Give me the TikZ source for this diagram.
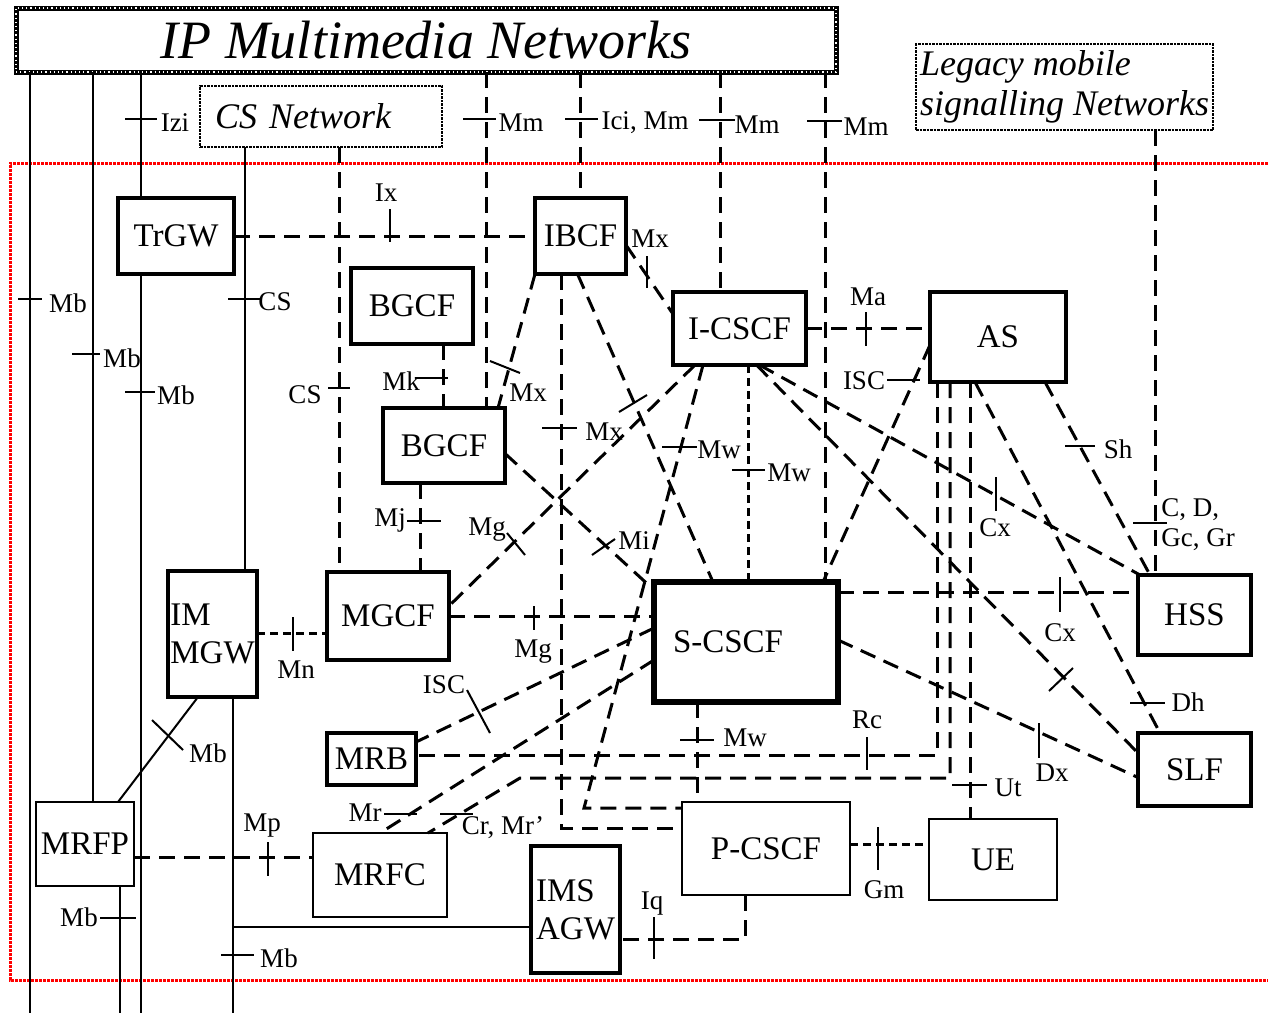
\documentclass[tikz,border=0pt]{standalone}
\usepackage{fontspec}
\setmainfont{Liberation Serif}
\usetikzlibrary{calc}

\tikzset{
  box/.style={draw, line width=3.5pt, inner sep=0pt, outer sep=0pt, font=\fontsize{33}{38}\selectfont},
  thinbox/.style={box, line width=1.8pt},
  bigbox/.style={box, line width=5.5pt},
  netbox/.style={draw, densely dotted, line width=2.5pt, inner sep=0pt, outer sep=0pt, font=\fontsize{36}{40}\selectfont\itshape},
  ipbox/.style={draw, line width=5pt, inner sep=0pt, outer sep=0pt, postaction={draw=white, line width=1.2pt, dash pattern=on 1.2pt off 3pt}},
  redframe/.style={red, line width=3pt, densely dotted},
  link/.style={line width=3pt, dash pattern=on 16pt off 9pt},
  shortlink/.style={line width=3pt, dash pattern=on 8pt off 5pt},
  wire/.style={line width=2pt},
  tick/.style={line width=2pt},
  lbl/.style={inner sep=0pt, font=\fontsize{27}{30}\selectfont},
}

\begin{document}
\begin{tikzpicture}[x=1pt, y=-1pt]
	%%%%% START %%%%%
	\useasboundingbox (0,0) rectangle (1268,1013);
	\draw[redframe] (1268,163) -- (10,163) -- (10,980) -- (1268,980);

	\node[ipbox, minimum width=820pt, minimum height=64pt, font=\fontsize{54}{60}\selectfont\itshape] (ipnet) at (426,40) {IP Multimedia Networks};
	\node[netbox, minimum width=242pt, minimum height=61pt, text width=212pt, align=left] (csnet) at (321,116.5) {CS Network};
	\node[netbox, minimum width=297pt, minimum height=86pt, align=left] (legacy) at (1064.5,87) {Legacy mobile\\signalling Networks};

	\node[box, minimum width=116pt, minimum height=76pt] (trgw) at (176,236) {TrGW};
	\node[box, minimum width=91pt, minimum height=76pt] (ibcf) at (580.5,236) {IBCF};
	\node[box, minimum width=122pt, minimum height=76pt] (bgcfa) at (412,306) {BGCF};
	\node[box, minimum width=122pt, minimum height=75pt] (bgcfb) at (444,445.5) {BGCF};
	\node[box, minimum width=133pt, minimum height=73pt] (icscf) at (739.5,328.5) {I-CSCF};
	\node[box, minimum width=136pt, minimum height=90pt] (asrv) at (998,337) {AS};
	\node[bigbox, minimum width=184pt, minimum height=120pt, text width=146pt, align=left] (scscf) at (746,642) {S-CSCF};
	\node[box, minimum width=113pt, minimum height=80pt] (hss) at (1194.5,615) {HSS};
	\node[box, minimum width=113pt, minimum height=73pt] (slf) at (1194.5,769.5) {SLF};
	\node[box, minimum width=122pt, minimum height=88pt] (mgcf) at (388,616) {MGCF};
	\node[box, minimum width=89pt, minimum height=126pt, align=left] (immgw) at (212.5,634) {IM\\MGW};
	\node[box, minimum width=89pt, minimum height=52pt] (mrb) at (371.5,759) {MRB};
	\node[thinbox, minimum width=98pt, minimum height=84pt] (mrfp) at (85,844) {MRFP};
	\node[thinbox, minimum width=134pt, minimum height=84pt] (mrfc) at (380,875) {MRFC};
	\node[box, minimum width=89pt, minimum height=127pt, align=left] (imsagw) at (575.5,909.5) {IMS\\AGW};
	\node[thinbox, minimum width=168pt, minimum height=93pt] (pcscf) at (766,848.5) {P-CSCF};
	\node[thinbox, minimum width=128pt, minimum height=81pt] (ue) at (993,859.5) {UE};

	\coordinate (bot) at (0,1013);
	\coordinate (xmba) at (30,0);
	\coordinate (xmbb) at (93,0);
	\coordinate (xmbc) at (141,0);
	\coordinate (xmrfp) at (120,0);
	\coordinate (xmgw) at (233,0);
	\coordinate (xcs) at (245,0);
	\coordinate (xcsd) at (339,0);
	\coordinate (xmj) at (420,0);
	\coordinate (xmk) at (443,0);
	\coordinate (xmma) at (486,0);
	\coordinate (xici) at (580,0);
	\coordinate (xmwb) at (697,0);
	\coordinate (xmmb) at (720,0);
	\coordinate (xmwa) at (748,0);
	\coordinate (xmmc) at (825,0);
	\coordinate (xleg) at (1155,0);
	\coordinate (mwbend) at (584,808);
	\coordinate (crbend) at (520,778);
	\coordinate (agwin) at ([yshift=-17.5pt]imsagw.west);

	% solid bearer lines
	\draw[wire] (ipnet.south -| xmba) -- (bot -| xmba);
	\draw[wire] (ipnet.south -| xmbb) -- (mrfp.north -| xmbb);
	\draw[wire] (ipnet.south -| xmbc) -- (trgw.north -| xmbc);
	\draw[wire] (trgw.south -| xmbc) -- (bot -| xmbc);
	\draw[wire] (csnet.south -| xcs) -- (immgw.north -| xcs);
	\draw[wire] (immgw.south -| xmgw) -- (bot -| xmgw);
	\draw[wire] (agwin) -- (agwin -| xmgw);
	\draw[wire] (mrfp.south -| xmrfp) -- (bot -| xmrfp);
	\draw[wire] ([xshift=-14.5pt]immgw.south) -- ([xshift=33pt]mrfp.north);

	% signalling
	\draw[link] (trgw.east) -- (ibcf.west);
	\draw[link] (csnet.south -| xcsd) -- (mgcf.north -| xcsd);
	\draw[link] (ipnet.south -| xmma) -- (bgcfb.north -| xmma);
	\draw[link] (ipnet.south -| xici) -- (ibcf.north -| xici);
	\draw[link] (ipnet.south -| xmmb) -- (icscf.north -| xmmb);
	\draw[link] (ipnet.south -| xmmc) -- (scscf.north -| xmmc);
	\draw[link] (legacy.south -| xleg) -- (hss.north -| xleg);
	\draw[link] (bgcfa.south -| xmk) -- (bgcfb.north -| xmk);
	\draw[link] (bgcfb.south -| xmj) -- (mgcf.north -| xmj);
	\draw[link] ([yshift=-9pt]ibcf.east) -- ([yshift=-22pt]icscf.north west);
	\draw[link] (ibcf.south west) -- ([xshift=-7pt]bgcfb.north east);
	\draw[link] ([xshift=-19.5pt]ibcf.south) |- ([yshift=20.5pt]pcscf.west);
	\draw[link] ([xshift=-3pt]ibcf.south) -- ([xshift=-33pt]scscf.north);
	\draw[link] ([xshift=-44.5pt]icscf.south) -- ([yshift=10pt]mgcf.east);
	\draw[link] ([yshift=-8pt]bgcfb.east) -- ([yshift=-8pt]scscf.north west);
	\draw[link] ([xshift=-36.5pt]icscf.south) -- (mwbend) -- (mwbend -| pcscf.west);
	\draw[shortlink] (icscf.south -| xmwa) -- (scscf.north -| xmwa);
	\draw[link] (icscf.east) -- (icscf.east -| asrv.west);
	\draw[link] ([yshift=-8pt]asrv.west) -- ([xshift=77pt]scscf.north);
	\draw[link] ([xshift=20pt]icscf.south) -- ([xshift=2pt]hss.north west);
	\draw[link] ([xshift=17pt]icscf.south) -- ([yshift=-20pt]slf.north west);
	\draw[link] ([yshift=50pt]scscf.east) -- ([yshift=23pt]hss.west);
	\draw[link] ([yshift=2pt]scscf.east) -- ([yshift=-8pt]slf.west);
	\draw[link] ([xshift=47pt]asrv.south) -- ([xshift=-44.5pt]hss.north);
	\draw[link] ([xshift=-23pt]asrv.south) -- ([xshift=-34.5pt]slf.north);
	\draw[link] ([xshift=-61pt]asrv.south) |- ([yshift=4pt]mrb.east);
	\draw[link] ([xshift=-48pt]asrv.south) |- (crbend) -- ([xshift=48pt]mrfc.north);
	\draw[link] ([yshift=-18pt]scscf.west) -- (mrfc.north);
	\draw[link] ([yshift=14pt]scscf.west) -- ([yshift=-9pt]mrb.north east);
	\draw[link] (mgcf.east) -- (mgcf.east -| scscf.west);
	\draw[link] (scscf.south -| xmwb) -- (pcscf.north -| xmwb);
	\draw[link] ([xshift=-28pt]asrv.south) -- ([xshift=-23pt]ue.north);
	\draw[shortlink] ([yshift=4.5pt]pcscf.east) -- ([yshift=15.5pt]ue.west);
	\draw[link] ([xshift=-21pt]pcscf.south) |- ([yshift=-29.5pt]imsagw.east);
	\draw[shortlink] ([yshift=1pt]immgw.east) -- ([yshift=-17pt]mgcf.west);
	\draw[link] ([yshift=-13pt]mrfp.east) -- ([yshift=18pt]mrfc.west);

	% reference point ticks
	\draw[tick] (18,299) -- (42,299);
	\draw[tick] (72,354) -- (100,354);
	\draw[tick] (125,392) -- (155,392);
	\draw[tick] (125,119) -- (157,119);
	\draw[tick] (228,299) -- (262,299);
	\draw[tick] (328,388) -- (350,388);
	\draw[tick] (390,209) -- (390,242);
	\draw[tick] (463,119) -- (496,119);
	\draw[tick] (565,119) -- (598,119);
	\draw[tick] (699,120) -- (735,120);
	\draw[tick] (807,121) -- (842,121);
	\draw[tick] (415,378) -- (448,378);
	\draw[tick] (490,361) -- (520,373);
	\draw[tick] (407,521) -- (441,521);
	\draw[tick] (507,533) -- (525,555);
	\draw[tick] (592,555) -- (615,539);
	\draw[tick] (542,428) -- (577,428);
	\draw[tick] (619,412) -- (647,395);
	\draw[tick] (647,256) -- (647,288);
	\draw[tick] (662,447) -- (697,447);
	\draw[tick] (732,470) -- (765,470);
	\draw[tick] (866,312) -- (866,346);
	\draw[tick] (887,380) -- (920,380);
	\draw[tick] (1065,446) -- (1095,446);
	\draw[tick] (996,477) -- (996,511);
	\draw[tick] (1133,523) -- (1167,523);
	\draw[tick] (1060,577) -- (1060,612);
	\draw[tick] (1049,691) -- (1073,668);
	\draw[tick] (1130,703) -- (1165,703);
	\draw[tick] (1039,723) -- (1039,758);
	\draw[tick] (952,785) -- (987,785);
	\draw[tick] (867,737) -- (867,770);
	\draw[tick] (878,827) -- (878,870);
	\draw[tick] (680,740) -- (714,740);
	\draw[tick] (534,606) -- (534,630);
	\draw[tick] (467,690) -- (490,733);
	\draw[tick] (384,814) -- (417,814);
	\draw[tick] (440,814) -- (473,814);
	\draw[tick] (268,842) -- (268,876);
	\draw[tick] (100,918) -- (136,918);
	\draw[tick] (221,955) -- (254,955);
	\draw[tick] (152,720) -- (183,750);
	\draw[tick] (654,917) -- (654,959);
	\draw[tick] (293,617) -- (293,651);

	% labels
	\node[lbl] (lmba) at (68,303) {Mb};
	\node[lbl] (lmbb) at (122,358) {Mb};
	\node[lbl] (lmbc) at (176,395) {Mb};
	\node[lbl] (lizi) at (175,123) {Izi};
	\node[lbl] (lcsa) at (275,302) {CS};
	\node[lbl] (lcsb) at (305,395) {CS};
	\node[lbl] (lix) at (386,193) {Ix};
	\node[lbl] (lmma) at (521,123) {Mm};
	\node[lbl] (lici) at (645,123) {Ici, Mm};
	\node[lbl] (lmmb) at (757,125) {Mm};
	\node[lbl] (lmmc) at (866,127) {Mm};
	\node[lbl] (lmk) at (401,381) {Mk};
	\node[lbl] (lmxa) at (528,393) {Mx};
	\node[lbl] (lmj) at (390,520) {Mj};
	\node[lbl] (lmga) at (487,530) {Mg};
	\node[lbl] (lmi) at (634,541) {Mi};
	\node[lbl] (lmxb) at (604,432) {Mx};
	\node[lbl] (lmxc) at (650,239) {Mx};
	\node[lbl] (lmwa) at (719,450) {Mw};
	\node[lbl] (lmwb) at (789,473) {Mw};
	\node[lbl] (lma) at (868,297) {Ma};
	\node[lbl] (lisca) at (864,381) {ISC};
	\node[lbl] (lsh) at (1118,449) {Sh};
	\node[lbl] (lcxa) at (995,528) {Cx};
	\node[lbl, align=left] (lcd) at (1198,525) {C, D,\\Gc, Gr};
	\node[lbl] (lcxb) at (1060,633) {Cx};
	\node[lbl] (ldh) at (1188,702) {Dh};
	\node[lbl] (ldx) at (1052,773) {Dx};
	\node[lbl] (lut) at (1008,788) {Ut};
	\node[lbl] (lrc) at (867,720) {Rc};
	\node[lbl] (lgm) at (884,890) {Gm};
	\node[lbl] (lmwc) at (745,738) {Mw};
	\node[lbl] (lmgb) at (533,652) {Mg};
	\node[lbl] (liscb) at (444,685) {ISC};
	\node[lbl] (lmr) at (365,813) {Mr};
	\node[lbl] (lcr) at (503,828) {Cr, Mr’};
	\node[lbl] (lmp) at (262,826) {Mp};
	\node[lbl] (lmbd) at (79,917) {Mb};
	\node[lbl] (lmbe) at (279,958) {Mb};
	\node[lbl] (lmbf) at (208,753) {Mb};
	\node[lbl] (liq) at (652,904) {Iq};
	\node[lbl] (lmn) at (296,670) {Mn};
	%%%%% END %%%%%
\end{tikzpicture}
\end{document}
